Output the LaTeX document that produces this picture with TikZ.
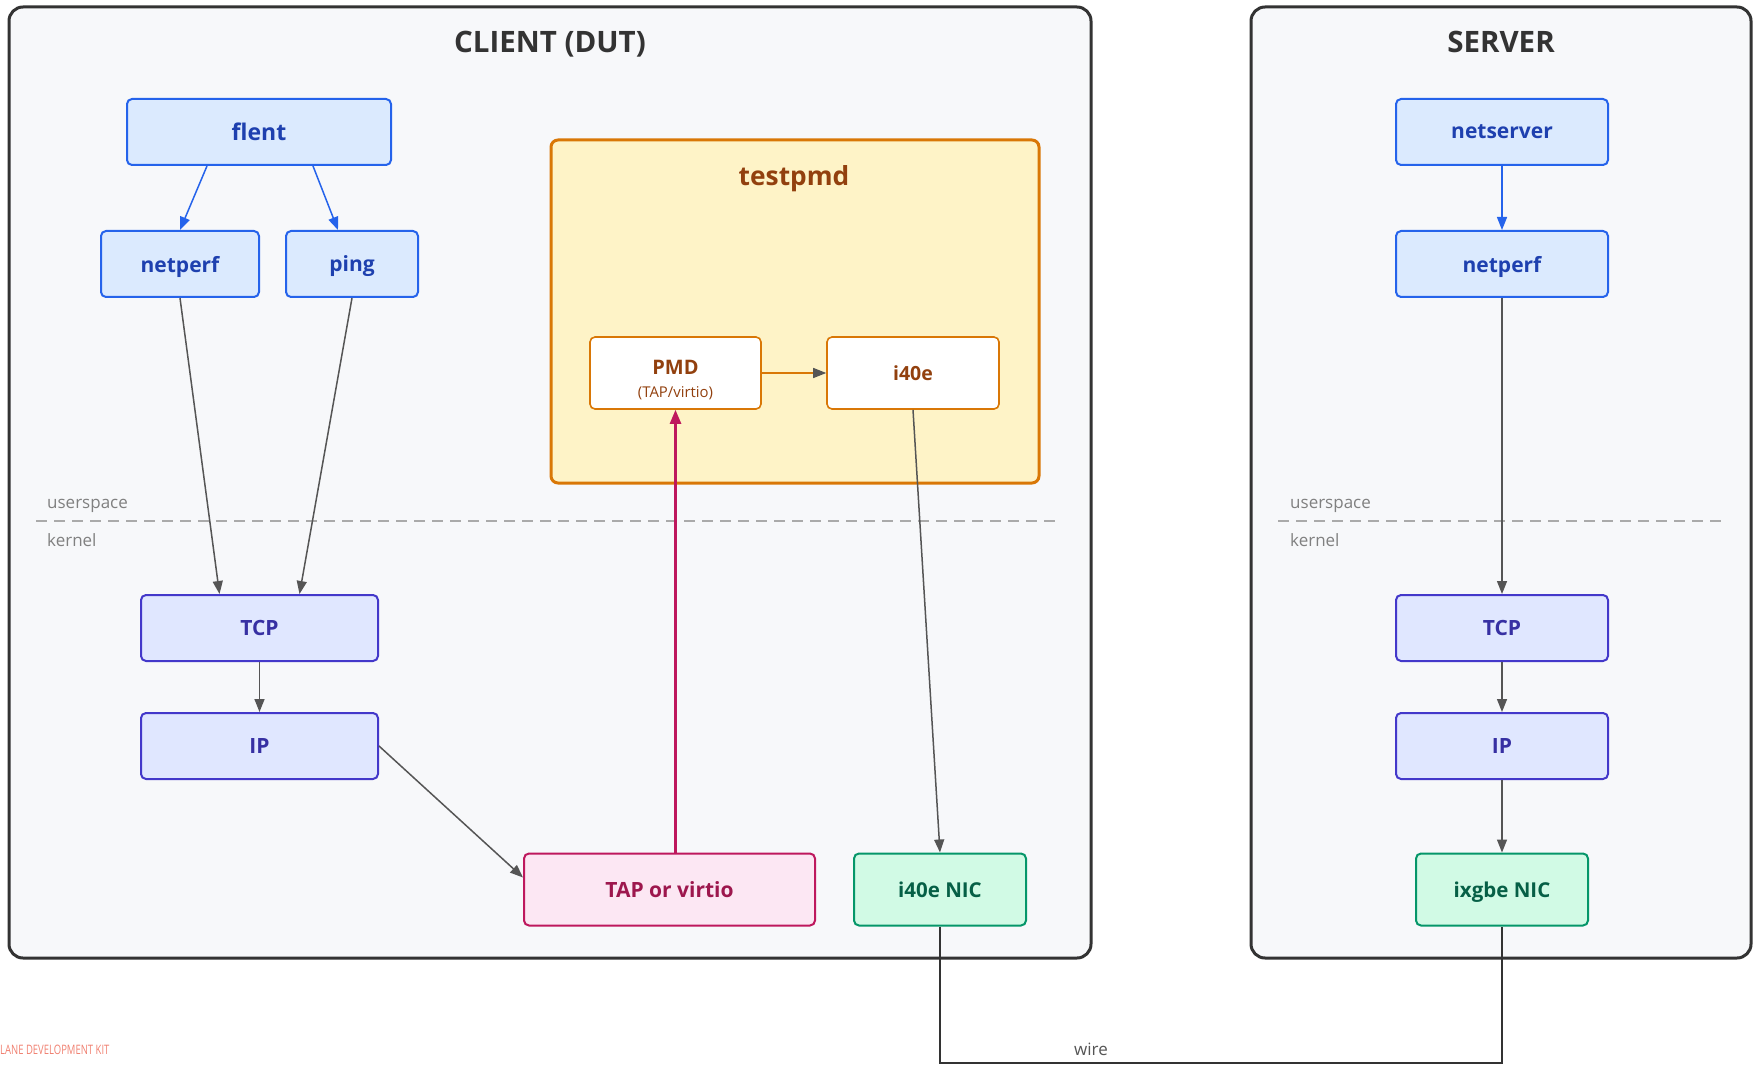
\documentclass[tikz,border=0pt]{standalone}
\usepackage{fontspec}
\setmainfont{Open Sans}
\usetikzlibrary{arrows.meta}

\definecolor{hostbg}{HTML}{F7F8FA}
\definecolor{hostline}{HTML}{333333}
\definecolor{appfill}{HTML}{DBEAFE}
\definecolor{appline}{HTML}{2563EB}
\definecolor{apptext}{HTML}{1E40AF}
\definecolor{kernfill}{HTML}{E0E7FF}
\definecolor{kernline}{HTML}{4338CA}
\definecolor{kerntext}{HTML}{3730A3}
\definecolor{dpdkfill}{HTML}{FEF3C7}
\definecolor{dpdkline}{HTML}{D97706}
\definecolor{dpdktext}{HTML}{92400E}
\definecolor{tapfill}{HTML}{FCE7F3}
\definecolor{tapline}{HTML}{BE185D}
\definecolor{taptext}{HTML}{9D174D}
\definecolor{nicfill}{HTML}{D1FAE5}
\definecolor{nicline}{HTML}{059669}
\definecolor{nictext}{HTML}{065F46}
\definecolor{flowgray}{HTML}{555555}
\definecolor{splitgray}{HTML}{AAAAAA}
\definecolor{notegray}{HTML}{808080}
\definecolor{kitred}{HTML}{F08070}

\begin{document}
\begin{tikzpicture}[x=1pt,y=-1pt,
  every node/.style = {shape=rectangle, inner sep=0pt, align=center},
  host/.style = {draw=hostline, fill=hostbg, line width=3pt, rounded corners=14pt},
  hosttitle/.style = {text=hostline, anchor=base, font=\bfseries\fontsize{29.5}{32}\selectfont},
  app/.style = {draw=appline, fill=appfill, text=apptext, line width=2pt, text depth=0pt,
    rounded corners=5pt, minimum height=66pt, font=\bfseries\fontsize{21}{24}\selectfont},
  kern/.style = {draw=kernline, fill=kernfill, text=kerntext, line width=2pt,
    rounded corners=5pt, minimum height=66pt, font=\bfseries\fontsize{21}{24}\selectfont},
  pmdbox/.style = {draw=dpdkline, fill=white, text=dpdktext, line width=1.6pt,
    rounded corners=5pt, minimum height=72pt, font=\bfseries\fontsize{19.5}{24}\selectfont},
  tapbox/.style = {draw=tapline, fill=tapfill, text=taptext, line width=2pt,
    rounded corners=5pt, minimum height=72pt, font=\bfseries\fontsize{21}{24}\selectfont},
  nicbox/.style = {draw=nicline, fill=nicfill, text=nictext, line width=2pt, text depth=0pt,
    rounded corners=5pt, minimum height=72pt, font=\bfseries\fontsize{20.5}{24}\selectfont},
  note/.style = {text=notegray, font=\fontsize{17}{20}\selectfont},
  flow/.style = {draw=flowgray, line width=1.5pt, -{Triangle[length=13pt,width=10pt]}},
  appflow/.style = {draw=appline, line width=1.5pt, -{Triangle[length=13pt,width=10pt]}},
  split/.style = {draw=splitgray, line width=2pt, dash pattern=on 11pt off 7pt}]
\useasboundingbox (0,0) rectangle (1753,1067);

% hosts
\node[host, minimum width=1082pt, minimum height=951pt] (client) at (550,482.5) {};
\node[host, minimum width=500pt, minimum height=951pt] (server) at (1501,482.5) {};
\node[hosttitle] (clienttitle) at (550,53) {CLIENT (DUT)};
\node[hosttitle] (servertitle) at (1501,53) {SERVER};

% userspace / kernel split
\draw[split] (36,521) -- (1060,521);
\draw[split] (1278,521) -- (1727,521);
\node[note, anchor=west] (us1) at (47,506) {userspace};
\node[note, anchor=west] (kn1) at (47,540) {kernel};
\node[note, anchor=west] (us2) at (1290,506) {userspace};
\node[note, anchor=west] (kn2) at (1290,540) {kernel};

% testpmd
\node[draw=dpdkline, fill=dpdkfill, line width=3pt, rounded corners=7pt,
  minimum width=488pt, minimum height=343pt] (testpmd) at (795,311.5) {};
\node[text=dpdktext, font=\bfseries\fontsize{26.3}{29}\selectfont] (testpmdtitle) at (794,179) {testpmd};
\node[pmdbox, minimum width=171pt] (pmd) at (675.5,373) {};
\node[text=dpdktext, font=\bfseries\fontsize{20}{24}\selectfont] (pmdname) at ([yshift=6pt]pmd.center) {PMD};
\node[text=dpdktext, font=\fontsize{14.9}{17}\selectfont] (pmdsub) at ([yshift=-20pt]pmd.center) {(TAP/virtio)};
\node[pmdbox, minimum width=172pt] (i40e) at (913,373) {i40e};

% client
\node[app, minimum width=264pt, font=\bfseries\fontsize{23}{26}\selectfont] (flent) at (259,132) {flent};
\node[app, minimum width=158pt] (netperf) at (180,264) {netperf};
\node[app, minimum width=132pt] (ping) at (352,264) {ping};
\node[kern, minimum width=237pt] (tcp) at (259.5,628) {TCP};
\node[kern, minimum width=237pt] (ip) at (259.5,746) {IP};
\node[tapbox, minimum width=291pt] (tap) at (669.5,889.5) {TAP or virtio};
\node[nicbox, minimum width=172pt] (i40enic) at (940,889.5) {i40e NIC};

% server
\node[app, minimum width=212pt] (netserver) at (1502,132) {netserver};
\node[app, minimum width=212pt] (snetperf) at (1502,264) {netperf};
\node[kern, minimum width=212pt] (stcp) at (1502,628) {TCP};
\node[kern, minimum width=212pt] (sip) at (1502,746) {IP};
\node[nicbox, minimum width=172pt] (ixgbe) at (1502,889.5) {ixgbe NIC};

% connectors
\draw[appflow] ([xshift=-52pt]flent.south) -- (netperf.north);
\draw[appflow] ([xshift=54pt]flent.south) -- ([xshift=-14pt]ping.north);
\draw[flow] (netperf.south) -- ([xshift=-40pt]tcp.north);
\draw[flow] (ping.south) -- ([xshift=40pt]tcp.north);
\draw[flow] (tcp) -- (ip);
\draw[flow] (ip.east) -- ([yshift=12pt]tap.west);
\draw[draw=tapline, line width=2.5pt, -{Triangle[length=14pt,width=11pt]}]
  (pmd.south |- tap.north) -- (pmd.south);
\draw[draw=dpdkline, line width=1.5pt, -{Triangle[length=13pt,width=10pt,color=flowgray]}]
  (pmd.east) -- (i40e.west);
\draw[flow] (i40e.south) -- (i40enic.north);

\draw[appflow] (netserver) -- (snetperf);
\draw[flow] (snetperf) -- (stcp);
\draw[flow] (stcp) -- (sip);
\draw[flow] (sip) -- (ixgbe);

% wire
\coordinate (wirel) at (940,1063);
\draw[draw=hostline, line width=2.5pt] (i40enic.south) -- (wirel) -| (ixgbe.south);
\node[note, text=flowgray] (wire) at (1091,1049) {wire};

\node[anchor=west, text=kitred, font=\fontsize{13}{15}\selectfont] (kit) at (0,1050)
  {\scalebox{0.73}[1]{LANE DEVELOPMENT KIT}};
\end{tikzpicture}
\end{document}
